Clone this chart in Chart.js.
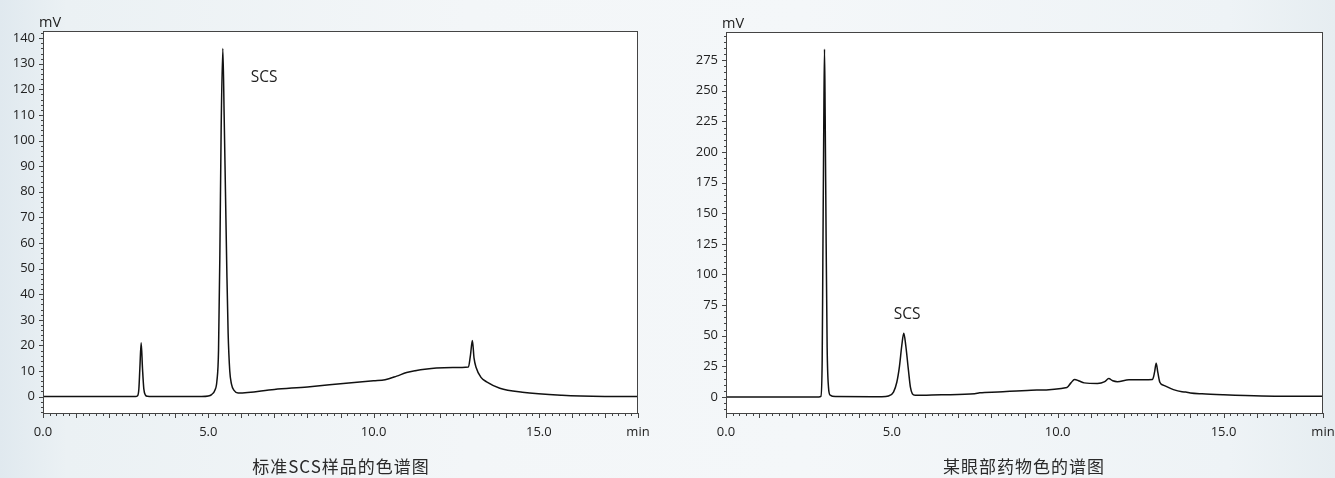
<!DOCTYPE html>
<html><head><meta charset="utf-8">
<script src="https://cdn.jsdelivr.net/npm/chart.js@4.4.0/dist/chart.umd.min.js"></script>
<style>
html,body{margin:0;padding:0;}
body{width:1335px;height:478px;overflow:hidden;position:relative;
background:linear-gradient(90deg,#e0e9ef 0%,#ebf1f4 5%,#f3f6f8 35%,#f4f7f9 60%,#eef3f6 92%,#e6edf1 100%);}
#w1{position:absolute;left:0;top:0;width:667px;height:478px;}
#w2{position:absolute;left:667px;top:0;width:668px;height:478px;}
.cap{position:absolute;top:456px;line-height:20px;font-family:"Noto Sans CJK SC",sans-serif;font-size:17px;color:#2a2a2a;letter-spacing:1px;white-space:nowrap;transform:translateX(-50%);}
</style></head>
<body>
<div id="w1"><canvas id="c1" width="667" height="478"></canvas></div>
<div id="w2"><canvas id="c2" width="668" height="478"></canvas></div>
<div class="cap" id="cap1" style="left:341px"></div>
<div class="cap" id="cap2" style="left:1024px"></div>
<script>
// ---- data (time in min, signal in mV) ----
const leftTime   = [0, 2.8, 2.86, 2.9, 2.93, 2.97, 3.01, 3.05, 3.1, 3.16, 3.3, 4.8, 5.0, 5.1, 5.2, 5.26, 5.31, 5.35, 5.39, 5.44, 5.48, 5.52, 5.56, 5.6, 5.65, 5.7, 5.78, 5.9, 7.0, 8.0, 9.0, 10.0, 10.35, 10.7, 11.0, 11.3, 11.55, 11.9, 12.4, 12.87, 12.93, 12.99, 13.04, 13.1, 13.25, 13.42, 13.82, 14.5, 15.7, 17.0, 18.0];
const leftSignal = [0, 0, 0.3, 3, 11, 21, 11, 3, 0.6, 0.1, 0, 0, 0.2, 0.8, 2.5, 6, 18, 55, 105, 136, 110, 80, 50, 25, 10, 5, 2.4, 1.4, 2.8, 3.8, 5.0, 6.2, 6.6, 8.0, 9.4, 10.2, 10.7, 11.2, 11.4, 11.6, 16, 21.9, 15, 11.5, 7.5, 5.8, 3.3, 1.7, 0.5, 0.05, 0];
const rightTime   = [0, 2.8, 2.86, 2.9, 2.92, 2.95, 2.97, 2.99, 3.02, 3.05, 3.09, 3.14, 3.3, 4.7, 4.9, 5.05, 5.15, 5.23, 5.3, 5.36, 5.42, 5.5, 5.56, 5.62, 5.7, 6.5, 7.5, 7.65, 8.2, 9.2, 10.28, 10.4, 10.51, 10.65, 10.8, 11.2, 11.42, 11.54, 11.66, 11.8, 12.15, 12.86, 12.92, 12.97, 13.02, 13.08, 13.2, 13.49, 13.75, 13.86, 14.0, 14.35, 15.0, 16.15, 17.0, 18.0];
const rightSignal = [0, 0, 0.5, 30, 110, 230, 284, 230, 125, 40, 8, 1.5, 0.3, 0.2, 0.8, 4, 12, 25, 42, 52, 42, 22, 8, 2.5, 1.3, 1.8, 2.6, 3.4, 4.1, 5.5, 7.8, 11.5, 14.3, 13.0, 11.5, 11.0, 12.5, 15.0, 13.2, 12.5, 14.0, 14.3, 20, 27.5, 20, 12, 9.5, 6.0, 4.2, 4.0, 3.3, 2.6, 1.8, 0.8, 0.6, 0.6];
const xLabelValues = [0, 5, 10, 15];
const xUnit = 'min';
const yUnit = 'mV';
const peakLabel = 'SCS';
const captions = ['标准SCS样品的色谱图', '某眼部药物色的谱图'];

document.getElementById('cap1').textContent = captions[0];
document.getElementById('cap2').textContent = captions[1];

Chart.defaults.font.family = "'Open Sans', sans-serif";
Chart.defaults.font.size = 13;
Chart.defaults.color = '#222';

function makeChart(id, times, signal, o) {
  const W = o.W, H = 478;
  const plugin = {
    id: 'chrom',
    beforeDraw(chart) {
      const {ctx, chartArea: a} = chart;
      ctx.save(); ctx.fillStyle = '#fff';
      ctx.fillRect(a.left, a.top, a.right - a.left, a.bottom - a.top);
      ctx.restore();
    },
    afterDraw(chart) {
      const {ctx, chartArea: a, scales: {x, y}} = chart;
      ctx.save();
      ctx.strokeStyle = '#444'; ctx.lineWidth = 1;
      ctx.strokeRect(Math.round(a.left) + 0.5, Math.round(a.top) + 0.5, Math.round(a.right - a.left) - 1, Math.round(a.bottom - a.top));
      ctx.beginPath();
      x.ticks.forEach(t => {
        const px = Math.round(x.getPixelForValue(t.value)) + 0.5;
        const major = Math.abs(t.value - Math.round(t.value)) < 1e-6;
        ctx.moveTo(px, a.bottom); ctx.lineTo(px, a.bottom + (major ? 5 : 3));
      });
      y.ticks.forEach(t => {
        const py = Math.round(y.getPixelForValue(t.value)) + 0.5;
        const major = Math.abs(t.value / o.yMajor - Math.round(t.value / o.yMajor)) < 1e-6;
        ctx.moveTo(a.left, py); ctx.lineTo(a.left - (major ? 4 : 2), py);
      });
      ctx.stroke();
      ctx.fillStyle = '#222';
      ctx.font = "14.5px 'Open Sans'"; ctx.textAlign = 'left'; ctx.textBaseline = 'alphabetic';
      ctx.fillText(yUnit, a.left - 4, a.top - 4);
      ctx.font = "15.5px 'Open Sans'"; ctx.textAlign = 'center'; ctx.textBaseline = 'middle';
      ctx.fillText(peakLabel, x.getPixelForValue(o.labelX), y.getPixelForValue(o.labelY));
      ctx.restore();
    }
  };
  return new Chart(document.getElementById(id), {
    type: 'line',
    data: {datasets: [{
      data: times.map((t, i) => ({x: t, y: signal[i]})),
      borderColor: '#111', borderWidth: 1.5, pointRadius: 0,
      cubicInterpolationMode: 'monotone', fill: false
    }]},
    options: {
      responsive: false, animation: false, events: [],
      layout: {padding: {left: 0, top: o.top, right: W - o.right, bottom: 0}},
      plugins: {legend: {display: false}, tooltip: {enabled: false}},
      scales: {
        x: {
          type: 'linear', min: 0, max: 18,
          border: {display: false}, grid: {display: false, drawTicks: false},
          ticks: {
            stepSize: 0.2, autoSkip: false, maxRotation: 0, minRotation: 0, padding: 11, includeBounds: false,
            callback: v => {
              const r = Math.round(v * 10) / 10;
              if (r === 18) return xUnit;
              return xLabelValues.includes(r) ? r.toFixed(1) : '';
            }
          },
          afterFit: s => { s.height = H - o.bottom; s.paddingLeft = 0; s.paddingRight = 0; }
        },
        y: {
          type: 'linear', min: o.yMin, max: o.yMax,
          border: {display: false}, grid: {display: false, drawTicks: false},
          ticks: {
            stepSize: o.yMinor, autoSkip: false, padding: 8, includeBounds: false,
            callback: v => {
              const k = Math.round(v / o.yMajor);
              return (v >= 0 && Math.abs(v - k * o.yMajor) < 1e-6) ? String(k * o.yMajor) : '';
            }
          },
          afterFit: s => { s.width = o.left; s.paddingTop = 0; s.paddingBottom = 0; }
        }
      }
    },
    plugins: [plugin]
  });
}

makeChart('c1', leftTime, leftSignal, {
  W: 667, left: 43, top: 31, right: 638, bottom: 413,
  yMin: -6.4, yMax: 142.8, yMinor: 2, yMajor: 10, labelX: 6.69, labelY: 124.5
});
makeChart('c2', rightTime, rightSignal, {
  W: 668, left: 59, top: 32, right: 656, bottom: 413,
  yMin: -13.1, yMax: 298, yMinor: 5, yMajor: 25, labelX: 5.46, labelY: 67
});
</script>
</body></html>
